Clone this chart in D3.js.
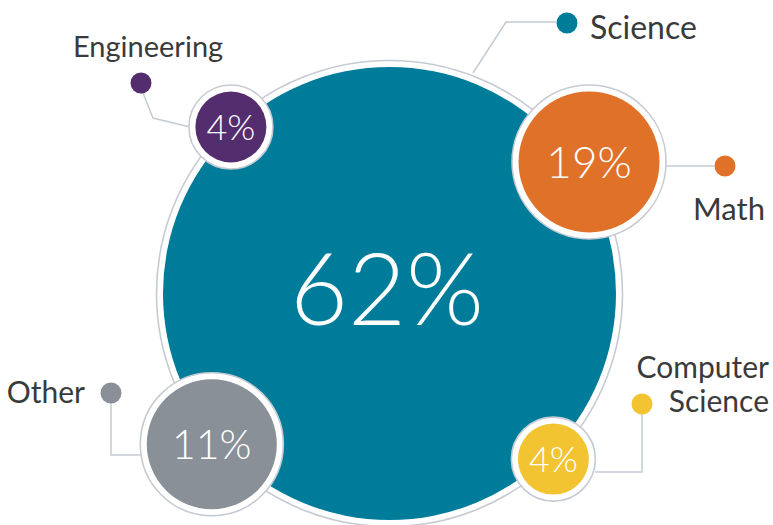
<!DOCTYPE html>
<html>
<head>
<meta charset="utf-8">
<script src="https://cdn.jsdelivr.net/npm/d3@7"></script>
<style>
  html, body { margin: 0; padding: 0; background: #ffffff; }
  svg { display: block; }
  text { font-family: Lato, "Open Sans", sans-serif; }
</style>
</head>
<body>
<svg id="chart" width="773" height="525"></svg>
<script>
// ---- data ----
const categories = ["Science", "Math", "Engineering", "Computer Science", "Other"];
const values = [62, 19, 4, 4, 11];
const colors = ["#007c9b", "#df7128", "#542d6e", "#f2c431", "#8a9098"];
const labelLines = [["Science"], ["Math"], ["Engineering"], ["Computer", "Science"], ["Other"]];

// ---- layout (not data) ----
const W = 773, H = 525;
const center = { x: 389.5, y: 293.5 };
// bubble placement around main circle: angle (deg) and distance from main centre
const placement = [
  { angle: 0, dist: 0 },
  { angle: -33.4, dist: 239 },
  { angle: -133.6, dist: 230 },
  { angle: 45.3, dist: 233 },
  { angle: 139.7, dist: 233 }
];
const ringGap = 6.5;
const lineColor = "#c6cbd3";

// radius scale (value -> bubble radius)
const rScale = d3.scaleLinear().domain([4, 11, 19, 62]).range([35.5, 65, 70.5, 226.5]);
const fontScale = d3.scaleLinear().domain([4, 11, 19, 62]).range([36, 41, 44, 100]);

const svg = d3.select("#chart");

const nodes = categories.map((c, i) => {
  const a = placement[i].angle * Math.PI / 180;
  return {
    name: c, value: values[i], color: colors[i],
    x: center.x + Math.cos(a) * placement[i].dist,
    y: center.y + Math.sin(a) * placement[i].dist,
    r: rScale(values[i])
  };
});

// ---- connectors & label dots ----
const annotations = [
  { dot: [567, 23], path: [[556, 22], [506, 22], [473, 73]], text: [590, 39], anchor: "start", size: 32 },
  { dot: [725, 166], path: [[714, 166], [666, 166]], text: [693, 220], anchor: "start", size: 31 },
  { dot: [141, 83], path: [[143, 93], [153, 118], [190, 127]], text: [73, 57], anchor: "start", size: 29 },
  { dot: [642, 404], path: [[642, 414], [642, 472], [595, 472]], text: [769, 378], anchor: "end", size: 30 },
  { dot: [111, 393], path: [[111, 403], [111, 455], [142, 455]], text: [85, 403], anchor: "end", size: 30 }
];

const line = d3.line();
const gAnn = svg.append("g");
gAnn.selectAll("path").data(annotations).join("path")
  .attr("d", d => line(d.path))
  .attr("fill", "none").attr("stroke", lineColor).attr("stroke-width", 1.5);

// ---- main circle ----
const main = nodes[0];
svg.append("circle")
  .attr("cx", main.x).attr("cy", main.y).attr("r", main.r + ringGap)
  .attr("fill", "#ffffff").attr("stroke", lineColor).attr("stroke-width", 1.6);
svg.append("circle")
  .attr("cx", main.x).attr("cy", main.y).attr("r", main.r)
  .attr("fill", main.color);
svg.append("text")
  .attr("x", 387).attr("y", 325)
  .attr("text-anchor", "middle")
  .attr("fill", "#ffffff")
  .attr("font-weight", 300)
  .attr("font-size", fontScale(main.value))
  .text(main.value + "%");

// ---- small bubbles ----
const small = svg.append("g").selectAll("g").data(nodes.slice(1)).join("g")
  .attr("transform", d => `translate(${d.x},${d.y})`);
small.append("circle")
  .attr("r", d => d.r + ringGap)
  .attr("fill", "#ffffff").attr("stroke", lineColor).attr("stroke-width", 1.6);
small.append("circle")
  .attr("r", d => d.r)
  .attr("fill", d => d.color);
small.append("text")
  .attr("text-anchor", "middle")
  .attr("dy", "0.36em")
  .attr("fill", "#ffffff")
  .attr("font-weight", 300)
  .attr("font-size", d => fontScale(d.value))
  .text(d => d.value + "%");

// ---- label dots & text ----
gAnn.selectAll("circle").data(annotations).join("circle")
  .attr("cx", d => d.dot[0]).attr("cy", d => d.dot[1]).attr("r", 10.5)
  .attr("fill", (d, i) => colors[i]);

const texts = svg.append("g").selectAll("text").data(annotations).join("text")
  .attr("x", d => d.text[0]).attr("y", d => d.text[1])
  .attr("text-anchor", d => d.anchor)
  .attr("fill", "#3a3a3a")
  .attr("font-weight", 400)
  .attr("font-size", d => d.size);
texts.each(function (d, i) {
  const t = d3.select(this);
  labelLines[i].forEach((ln, j) => {
    t.append("tspan").attr("x", d.text[0]).attr("dy", j === 0 ? 0 : 34).text(ln);
  });
});
</script>
</body>
</html>
